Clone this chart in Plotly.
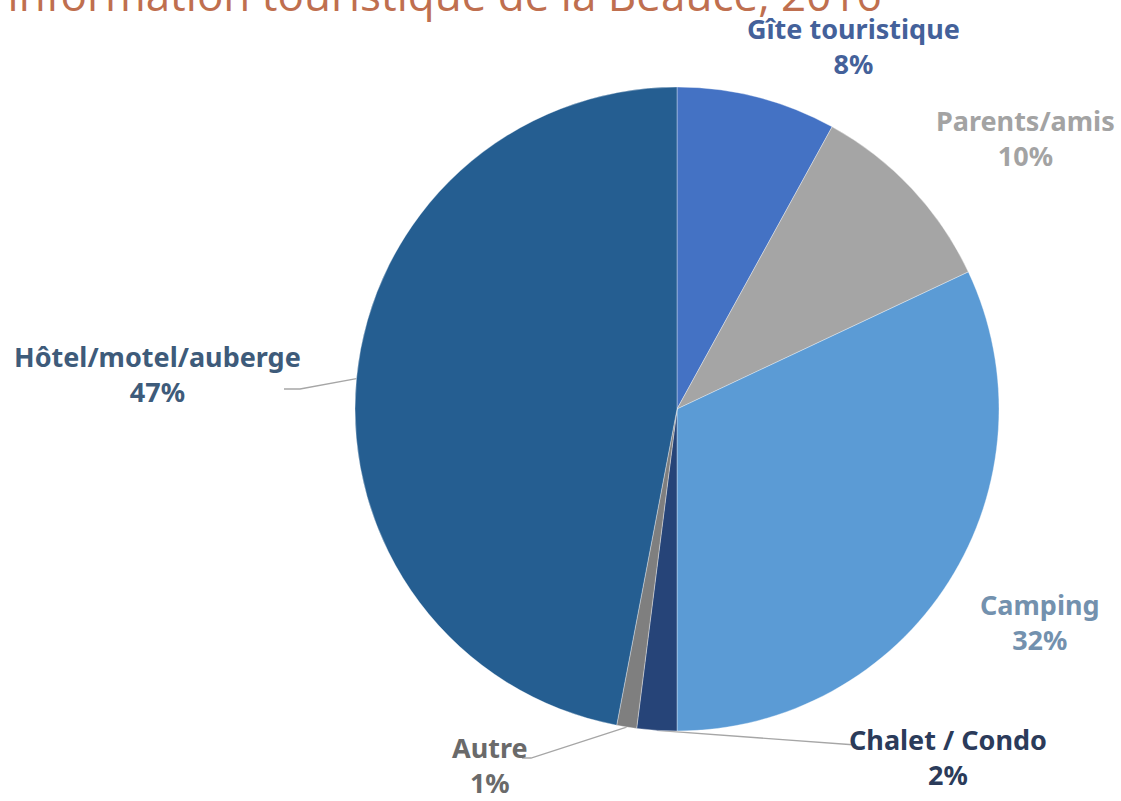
import math
import plotly.graph_objects as go

# Répartition des types d'hébergement (en %)
categories = ["Gîte touristique", "Parents/amis", "Camping", "Chalet / Condo", "Autre", "Hôtel/motel/auberge"]
values = [8, 10, 32, 2, 1, 47]
slice_colors = ["#4472C4", "#A5A5A5", "#5B9BD5", "#264478", "#7F7F7F", "#255E91"]
label_colors = ["#44619A", "#A3A3A3", "#7391AE", "#2B3B5A", "#6A6A6A", "#3E5B7A"]
title_text = "d'information touristique de la Beauce, 2016"

W, H = 1121, 801
cx, cy, R = 677, 409, 322  # pie centre and radius in page pixels

# label anchor positions (page pixels) and whether a leader line is drawn
label_pos = {
    "Gîte touristique": (853, 46, False),
    "Parents/amis": (1025, 138, False),
    "Camping": (1040, 622, False),
    "Chalet / Condo": (948, 757, True),
    "Autre": (490, 765, True),
    "Hôtel/motel/auberge": (157, 374, True),
}
leader_end = {
    "Chalet / Condo": [(856, 745)],
    "Autre": [(522, 758), (531, 758)],
    "Hôtel/motel/auberge": [(284, 389), (300, 389)],
}

fig = go.Figure()
fig.add_trace(go.Pie(
    labels=categories,
    values=values,
    sort=False,
    direction="clockwise",
    rotation=0,
    marker=dict(colors=slice_colors, line=dict(color="rgba(255,255,255,0.35)", width=1)),
    textinfo="none",
    hoverinfo="label+percent",
    showlegend=False,
    domain=dict(x=[(cx - R) / W, (cx + R) / W], y=[(H - cy - R) / H, (H - cy + R) / H]),
))

# invisible pixel-space axes for labels and leader lines
fig.update_xaxes(range=[0, W], visible=False, fixedrange=True)
fig.update_yaxes(range=[H, 0], visible=False, fixedrange=True)

total = sum(values)
cum = 0
for name, v, col in zip(categories, values, label_colors):
    mid = (cum + v / 2) / total * 2 * math.pi
    cum += v
    ex, ey = cx + R * math.sin(mid), cy - R * math.cos(mid)
    lx, ly, has_line = label_pos[name]
    if has_line:
        pts = [(ex, ey)] + leader_end[name][::-1]
        fig.add_trace(go.Scatter(
            x=[p[0] for p in pts], y=[p[1] for p in pts], mode="lines",
            line=dict(color="#A6A6A6", width=1.3), hoverinfo="skip", showlegend=False,
        ))
    fig.add_annotation(
        x=lx, y=ly, xref="x", yref="y", showarrow=False,
        text=f"{name}<br>{round(v / total * 100)}%",
        font=dict(family="Noto Sans", size=27, color=col, weight="bold"),
        align="center", xanchor="center", yanchor="middle",
    )

# chart title, mostly above the top edge of the page
fig.add_annotation(
    x=884 / W, y=1, xref="paper", yref="paper", showarrow=False,
    text=title_text, xanchor="right", yanchor="bottom", yshift=-26,
    font=dict(family="Open Sans", size=44, color="#BF6F4F"),
)

fig.update_layout(
    width=W, height=H,
    margin=dict(l=0, r=0, t=0, b=0),
    paper_bgcolor="white", plot_bgcolor="white",
)
fig.write_html("out.html")
